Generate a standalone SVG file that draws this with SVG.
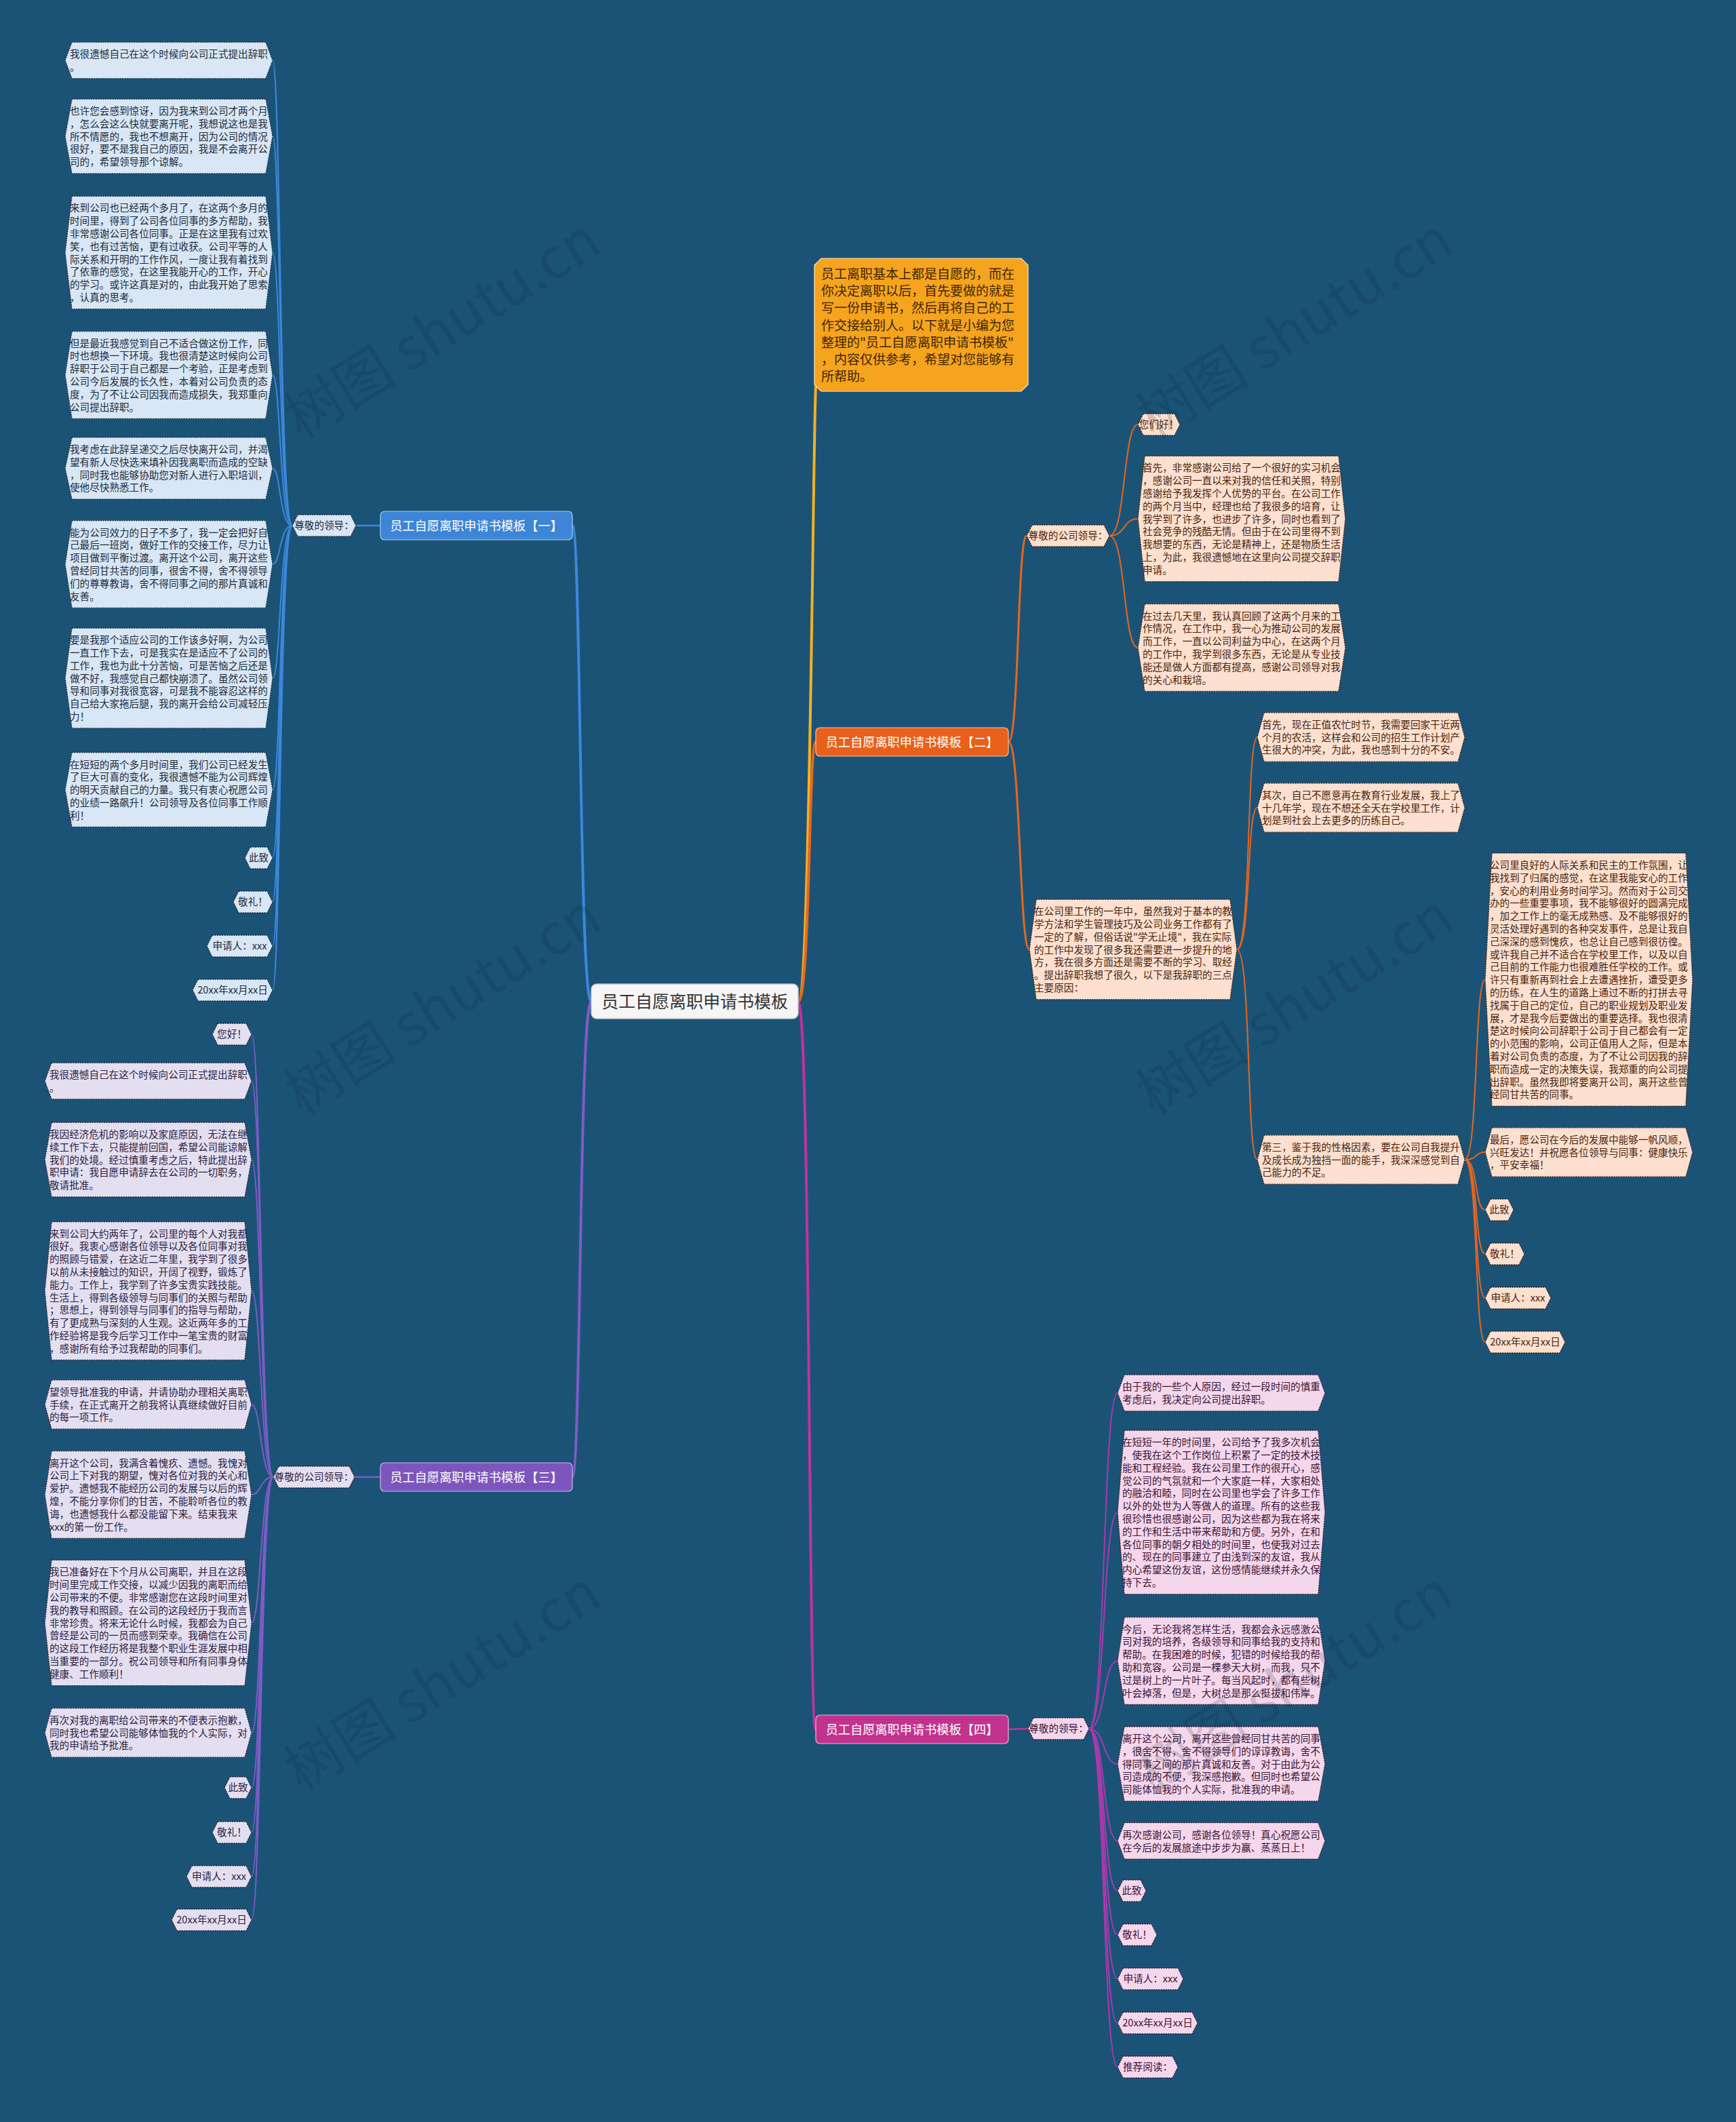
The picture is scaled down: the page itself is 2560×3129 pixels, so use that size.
<svg xmlns="http://www.w3.org/2000/svg" width="2560" height="3129" viewBox="0 0 2560 3129">
<style>
.t{font-family:"Noto Sans CJK SC","Noto Sans",sans-serif;font-size:14.6px}
.c{text-anchor:middle}
.h1{fill:#d8e6f5;stroke:#17283a;stroke-width:1.3;stroke-dasharray:2 1.5}
.h2{fill:#fde0cf;stroke:#3a1a0a;stroke-width:1.3;stroke-dasharray:2 1.5}
.h3{fill:#e4dff0;stroke:#211a33;stroke-width:1.3;stroke-dasharray:2 1.5}
.h4{fill:#f5d7ec;stroke:#33102a;stroke-width:1.3;stroke-dasharray:2 1.5}
.k1{fill:#1c2b3b}.k2{fill:#4a1f0c}.k3{fill:#2a2142}.k4{fill:#3a1233}
.br{font-family:"Noto Sans CJK SC","Noto Sans",sans-serif;font-size:18.2px;fill:#ffffff;text-anchor:middle}
.l{fill:none;stroke-linecap:round}
.lb{stroke:#3c88dc}.lo{stroke:#e8661f}.lp{stroke:#7e5cc6}.lm{stroke:#c2329b}.lm2{stroke:#a93aae}.ly{stroke:#f2b124}
.w{font-family:"Noto Sans CJK SC","Liberation Serif",serif;font-size:84px;fill:#0a2233;opacity:0.16}
</style>
<rect width="2560" height="3129" fill="#1b5377"/>

<g id="connectors">
<path class="l ly" stroke-width="4" d="M1177 1477 C1195 1477 1199 620 1203 570"/>
<path class="l lo" stroke-width="4" d="M1177 1477 C1195 1477 1192 1094 1203 1094"/>
<path class="l lm" stroke-width="4" d="M1177 1477 C1195 1477 1192 2550 1203 2550"/>
<path class="l lb" stroke-width="4" d="M872 1477 C854 1477 857 775 844 775"/>
<path class="l lp" stroke-width="4" d="M872 1477 C854 1477 857 2178 844 2178"/>
<path class="l lb" stroke-width="2.5" d="M561 775 L525 775"/>
<path class="l lp" stroke-width="2.5" d="M561 2178 L523 2178"/>
<path class="l lm" stroke-width="2.5" d="M1487 2550 L1516 2549"/>
<path class="l lo" stroke-width="3" d="M1487 1094 C1503 1094 1500 790 1514 790"/>
<path class="l lo" stroke-width="3" d="M1487 1094 C1505 1094 1503 1400 1518 1400"/>
<g class="l lb" stroke-width="2">
<path d="M431 775 C412 775 414 89 402 89"/>
<path d="M431 775 C412 775 414 201 402 201"/>
<path d="M431 775 C412 775 414 372.5 402 372.5"/>
<path d="M431 775 C412 775 414 553 402 553"/>
<path d="M431 775 C412 775 414 690.5 402 690.5"/>
<path d="M431 775 C412 775 414 832 402 832"/>
<path d="M431 775 C412 775 414 1000 402 1000"/>
<path d="M431 775 C412 775 414 1164.5 402 1164.5"/>
<path d="M431 775 C412 775 414 1265 402 1265"/>
<path d="M431 775 C412 775 414 1330 402 1330"/>
<path d="M431 775 C412 775 414 1395 402 1395"/>
<path d="M431 775 C412 775 414 1460 402 1460"/>
</g>
<g class="l lp" stroke-width="2">
<path d="M403 2178 C384 2178 385 1525 371 1525"/>
<path d="M403 2178 C384 2178 385 1594 371 1594"/>
<path d="M403 2178 C384 2178 385 1710 371 1710"/>
<path d="M403 2178 C384 2178 385 1903.5 371 1903.5"/>
<path d="M403 2178 C384 2178 385 2071 371 2071"/>
<path d="M403 2178 C384 2178 385 2204 371 2204"/>
<path d="M403 2178 C384 2178 385 2393 371 2393"/>
<path d="M403 2178 C384 2178 385 2555 371 2555"/>
<path d="M403 2178 C384 2178 385 2636 371 2636"/>
<path d="M403 2178 C384 2178 385 2702 371 2702"/>
<path d="M403 2178 C384 2178 385 2767 371 2767"/>
<path d="M403 2178 C384 2178 385 2831 371 2831"/>
</g>
<g class="l lo" stroke-width="2">
<path d="M1636 790 C1660 790 1656 626 1678 626"/>
<path d="M1636 790 C1660 790 1656 765 1678 765"/>
<path d="M1636 790 C1660 790 1656 955 1678 955"/>
<path d="M1824 1400 C1845 1400 1838 1087 1854 1087"/>
<path d="M1824 1400 C1845 1400 1838 1191 1854 1191"/>
<path d="M1824 1400 C1845 1400 1838 1710 1854 1710"/>
<path d="M2160 1710 C2180 1710 2174 1444.5 2190 1444.5"/>
<path d="M2160 1710 C2180 1710 2174 1699 2190 1699"/>
<path d="M2160 1710 C2180 1710 2174 1784 2190 1784"/>
<path d="M2160 1710 C2180 1710 2174 1849 2190 1849"/>
<path d="M2160 1710 C2180 1710 2174 1914 2190 1914"/>
<path d="M2160 1710 C2180 1710 2174 1979 2190 1979"/>
</g>
<g class="l lm2" stroke-width="2">
<path d="M1606 2549 C1630 2549 1626 2054 1648 2054"/>
<path d="M1606 2549 C1630 2549 1626 2230 1648 2230"/>
<path d="M1606 2549 C1630 2549 1626 2449 1648 2449"/>
<path d="M1606 2549 C1630 2549 1626 2601 1648 2601"/>
<path d="M1606 2549 C1630 2549 1626 2714.5 1648 2714.5"/>
<path d="M1606 2549 C1630 2549 1626 2788 1648 2788"/>
<path d="M1606 2549 C1630 2549 1626 2853 1648 2853"/>
<path d="M1606 2549 C1630 2549 1626 2918 1648 2918"/>
<path d="M1606 2549 C1630 2549 1626 2983 1648 2983"/>
<path d="M1606 2549 C1630 2549 1626 3048 1648 3048"/>
</g>
</g>

<g id="root">
<rect x="872" y="1451" width="305" height="51" rx="8" fill="#f6f6f6" stroke="#c9c9c9" stroke-width="1.5"/>
<text x="1024.5" y="1486" class="c" font-family="Noto Sans CJK SC, sans-serif" font-size="25" fill="#333333">员工自愿离职申请书模板</text>
</g>

<g id="intro">
<path d="M1211 381 L1506 381 L1516 391 L1516 567 L1506 577 L1211 577 L1201 567 L1201 391 Z" fill="#f6a31d" stroke="#fde7b8" stroke-width="1.2"/>
<text font-family="Noto Sans CJK SC, sans-serif" font-size="19" fill="#3b2600">
<tspan x="1211" y="411">员工离职基本上都是自愿的，而在</tspan>
<tspan x="1211" dy="25.2">你决定离职以后，首先要做的就是</tspan>
<tspan x="1211" dy="25.2">写一份申请书，然后再将自己的工</tspan>
<tspan x="1211" dy="25.2">作交接给别人。以下就是小编为您</tspan>
<tspan x="1211" dy="25.2">整理的"员工自愿离职申请书模板"</tspan>
<tspan x="1211" dy="25.2">，内容仅供参考，希望对您能够有</tspan>
<tspan x="1211" dy="25.2">所帮助。</tspan>
</text>
</g>

<g id="b1">
<rect x="561" y="754" width="283" height="42" rx="6" fill="#3d85d6" stroke="#a9cdf2" stroke-width="1.2"/>
<text x="702.5" y="781.5" class="br">员工自愿离职申请书模板【一】</text>
</g>
<g id="b2">
<rect x="1203" y="1073" width="284" height="42" rx="6" fill="#e8601c" stroke="#f8c3a3" stroke-width="1.2"/>
<text x="1345" y="1100.5" class="br">员工自愿离职申请书模板【二】</text>
</g>
<g id="b3">
<rect x="561" y="2157" width="283" height="42" rx="6" fill="#7d56bd" stroke="#c9b8ea" stroke-width="1.2"/>
<text x="702.5" y="2184.5" class="br">员工自愿离职申请书模板【三】</text>
</g>
<g id="b4">
<rect x="1203" y="2529" width="284" height="42" rx="6" fill="#c2338f" stroke="#eeb3d8" stroke-width="1.2"/>
<text x="1345" y="2556.5" class="br">员工自愿离职申请书模板【四】</text>
</g>

<!-- Branch 1 -->
<g id="b1-s">
<polygon class="h1" points="439,759 517,759 525,775 517,791 439,791 431,775"/>
<text x="478" y="780" class="t c k1" font-size="14">尊敬的领导：</text>
</g>
<g id="b1-1"><polygon class="h1" points="106,62.2 392,62.2 402,89 392,115.8 106,115.8 96,89"/>
<text class="t k1"><tspan x="103" y="85.2">我很遗憾自己在这个时候向公司正式提出辞职</tspan><tspan x="103" dy="18.8">。</tspan></text></g>
<g id="b1-2"><polygon class="h1" points="106,146 392,146 402,201 392,256 106,256 96,201"/>
<text class="t k1"><tspan x="103" y="169">也许您会感到惊讶，因为我来到公司才两个月</tspan><tspan x="103" dy="18.8">，怎么会这么快就要离开呢，我想说这也是我</tspan><tspan x="103" dy="18.8">所不情愿的，我也不想离开，因为公司的情况</tspan><tspan x="103" dy="18.8">很好，要不是我自己的原因，我是不会离开公</tspan><tspan x="103" dy="18.8">司的，希望领导那个谅解。</tspan></text></g>
<g id="b1-3"><polygon class="h1" points="106,289.3 392,289.3 402,372.5 392,455.7 106,455.7 96,372.5"/>
<text class="t k1"><tspan x="103" y="312.3">来到公司也已经两个多月了，在这两个多月的</tspan><tspan x="103" dy="18.8">时间里，得到了公司各位同事的多方帮助，我</tspan><tspan x="103" dy="18.8">非常感谢公司各位同事。正是在这里我有过欢</tspan><tspan x="103" dy="18.8">笑，也有过苦恼，更有过收获。公司平等的人</tspan><tspan x="103" dy="18.8">际关系和开明的工作作风，一度让我有着找到</tspan><tspan x="103" dy="18.8">了依靠的感觉，在这里我能开心的工作，开心</tspan><tspan x="103" dy="18.8">的学习。或许这真是对的，由此我开始了思索</tspan><tspan x="103" dy="18.8">，认真的思考。</tspan></text></g>
<g id="b1-4"><polygon class="h1" points="106,488.6 392,488.6 402,553 392,617.4 106,617.4 96,553"/>
<text class="t k1"><tspan x="103" y="511.6">但是最近我感觉到自己不适合做这份工作，同</tspan><tspan x="103" dy="18.8">时也想换一下环境。我也很清楚这时候向公司</tspan><tspan x="103" dy="18.8">辞职于公司于自己都是一个考验，正是考虑到</tspan><tspan x="103" dy="18.8">公司今后发展的长久性，本着对公司负责的态</tspan><tspan x="103" dy="18.8">度，为了不让公司因我而造成损失，我郑重向</tspan><tspan x="103" dy="18.8">公司提出辞职。</tspan></text></g>
<g id="b1-5"><polygon class="h1" points="106,644.9 392,644.9 402,690.5 392,736.1 106,736.1 96,690.5"/>
<text class="t k1"><tspan x="103" y="667.9">我考虑在此辞呈递交之后尽快离开公司，并渴</tspan><tspan x="103" dy="18.8">望有新人尽快选来填补因我离职而造成的空缺</tspan><tspan x="103" dy="18.8">，同时我也能够协助您对新人进行入职培训，</tspan><tspan x="103" dy="18.8">使他尽快熟悉工作。</tspan></text></g>
<g id="b1-6"><polygon class="h1" points="106,767.6 392,767.6 402,832 392,896.4 106,896.4 96,832"/>
<text class="t k1"><tspan x="103" y="790.6">能为公司效力的日子不多了，我一定会把好自</tspan><tspan x="103" dy="18.8">己最后一班岗，做好工作的交接工作，尽力让</tspan><tspan x="103" dy="18.8">项目做到平衡过渡。离开这个公司，离开这些</tspan><tspan x="103" dy="18.8">曾经同甘共苦的同事，很舍不得，舍不得领导</tspan><tspan x="103" dy="18.8">们的尊尊教诲，舍不得同事之间的那片真诚和</tspan><tspan x="103" dy="18.8">友善。</tspan></text></g>
<g id="b1-7"><polygon class="h1" points="106,926.2 392,926.2 402,1000 392,1073.8 106,1073.8 96,1000"/>
<text class="t k1"><tspan x="103" y="949.2">要是我那个适应公司的工作该多好啊，为公司</tspan><tspan x="103" dy="18.8">一直工作下去，可是我实在是适应不了公司的</tspan><tspan x="103" dy="18.8">工作，我也为此十分苦恼，可是苦恼之后还是</tspan><tspan x="103" dy="18.8">做不好，我感觉自己都快崩溃了。虽然公司领</tspan><tspan x="103" dy="18.8">导和同事对我很宽容，可是我不能容忍这样的</tspan><tspan x="103" dy="18.8">自己给大家拖后腿，我的离开会给公司减轻压</tspan><tspan x="103" dy="18.8">力！</tspan></text></g>
<g id="b1-8"><polygon class="h1" points="106,1109.5 392,1109.5 402,1164.5 392,1219.5 106,1219.5 96,1164.5"/>
<text class="t k1"><tspan x="103" y="1132.5">在短短的两个多月时间里，我们公司已经发生</tspan><tspan x="103" dy="18.8">了巨大可喜的变化，我很遗憾不能为公司辉煌</tspan><tspan x="103" dy="18.8">的明天贡献自己的力量。我只有衷心祝愿公司</tspan><tspan x="103" dy="18.8">的业绩一路飙升！公司领导及各位同事工作顺</tspan><tspan x="103" dy="18.8">利！</tspan></text></g>
<g id="b1-9"><polygon class="h1" points="369,1249 394,1249 402,1265 394,1281 369,1281 361,1265"/><text x="381.5" y="1270" class="t c k1">此致</text></g>
<g id="b1-10"><polygon class="h1" points="352,1314 394,1314 402,1330 394,1346 352,1346 344,1330"/><text x="373" y="1335" class="t c k1">敬礼！</text></g>
<g id="b1-11"><polygon class="h1" points="313,1379 394,1379 402,1395 394,1411 313,1411 305,1395"/><text x="353.5" y="1400" class="t c k1">申请人：xxx</text></g>
<g id="b1-12"><polygon class="h1" points="292,1444 394,1444 402,1460 394,1476 292,1476 284,1460"/><text x="343" y="1465" class="t c k1">20xx年xx月xx日</text></g>

<!-- Branch 3 -->
<g id="b3-s">
<polygon class="h3" points="411,2162 515,2162 523,2178 515,2194 411,2194 403,2178"/>
<text x="463" y="2183" class="t c k3" font-size="14">尊敬的公司领导：</text>
</g>
<g id="b3-1"><polygon class="h3" points="321,1509 363,1509 371,1525 363,1541 321,1541 313,1525"/><text x="342" y="1530" class="t c k3">您好！</text></g>
<g id="b3-2"><polygon class="h3" points="76,1567.2 361,1567.2 371,1594 361,1620.8 76,1620.8 66,1594"/>
<text class="t k3"><tspan x="73" y="1590.2">我很遗憾自己在这个时候向公司正式提出辞职</tspan><tspan x="73" dy="18.8">。</tspan></text></g>
<g id="b3-3"><polygon class="h3" points="76,1655 361,1655 371,1710 361,1765 76,1765 66,1710"/>
<text class="t k3"><tspan x="73" y="1678">我因经济危机的影响以及家庭原因，无法在继</tspan><tspan x="73" dy="18.8">续工作下去，只能提前回国，希望公司能谅解</tspan><tspan x="73" dy="18.8">我们的处境。经过慎重考虑之后，特此提出辞</tspan><tspan x="73" dy="18.8">职申请：我自愿申请辞去在公司的一切职务，</tspan><tspan x="73" dy="18.8">敬请批准。</tspan></text></g>
<g id="b3-4"><polygon class="h3" points="76,1801.5 361,1801.5 371,1903.5 361,2005.5 76,2005.5 66,1903.5"/>
<text class="t k3"><tspan x="73" y="1824.5">来到公司大约两年了，公司里的每个人对我都</tspan><tspan x="73" dy="18.8">很好。我衷心感谢各位领导以及各位同事对我</tspan><tspan x="73" dy="18.8">的照顾与错爱，在这近二年里，我学到了很多</tspan><tspan x="73" dy="18.8">以前从未接触过的知识，开阔了视野，锻炼了</tspan><tspan x="73" dy="18.8">能力。工作上，我学到了许多宝贵实践技能。</tspan><tspan x="73" dy="18.8">生活上，得到各级领导与同事们的关照与帮助</tspan><tspan x="73" dy="18.8">；思想上，得到领导与同事们的指导与帮助，</tspan><tspan x="73" dy="18.8">有了更成熟与深刻的人生观。这近两年多的工</tspan><tspan x="73" dy="18.8">作经验将是我今后学习工作中一笔宝贵的财富</tspan><tspan x="73" dy="18.8">，感谢所有给予过我帮助的同事们。</tspan></text></g>
<g id="b3-5"><polygon class="h3" points="76,2034.8 361,2034.8 371,2071 361,2107.2 76,2107.2 66,2071"/>
<text class="t k3"><tspan x="73" y="2057.8">望领导批准我的申请，并请协助办理相关离职</tspan><tspan x="73" dy="18.8">手续，在正式离开之前我将认真继续做好目前</tspan><tspan x="73" dy="18.8">的每一项工作。</tspan></text></g>
<g id="b3-6"><polygon class="h3" points="76,2139.6 361,2139.6 371,2204 361,2268.4 76,2268.4 66,2204"/>
<text class="t k3"><tspan x="73" y="2162.6">离开这个公司，我满含着愧疚、遗憾。我愧对</tspan><tspan x="73" dy="18.8">公司上下对我的期望，愧对各位对我的关心和</tspan><tspan x="73" dy="18.8">爱护。遗憾我不能经历公司的发展与以后的辉</tspan><tspan x="73" dy="18.8">煌，不能分享你们的甘苦，不能聆听各位的教</tspan><tspan x="73" dy="18.8">诲，也遗憾我什么都没能留下来。结束我来</tspan><tspan x="73" dy="18.8">xxx的第一份工作。</tspan></text></g>
<g id="b3-7"><polygon class="h3" points="76,2300.4 361,2300.4 371,2393 361,2485.6 76,2485.6 66,2393"/>
<text class="t k3"><tspan x="73" y="2323.4">我已准备好在下个月从公司离职，并且在这段</tspan><tspan x="73" dy="18.8">时间里完成工作交接，以减少因我的离职而给</tspan><tspan x="73" dy="18.8">公司带来的不便。非常感谢您在这段时间里对</tspan><tspan x="73" dy="18.8">我的教导和照顾。在公司的这段经历于我而言</tspan><tspan x="73" dy="18.8">非常珍贵。将来无论什么时候，我都会为自己</tspan><tspan x="73" dy="18.8">曾经是公司的一员而感到荣幸。我确信在公司</tspan><tspan x="73" dy="18.8">的这段工作经历将是我整个职业生涯发展中相</tspan><tspan x="73" dy="18.8">当重要的一部分。祝公司领导和所有同事身体</tspan><tspan x="73" dy="18.8">健康、工作顺利！</tspan></text></g>
<g id="b3-8"><polygon class="h3" points="76,2518.8 361,2518.8 371,2555 361,2591.2 76,2591.2 66,2555"/>
<text class="t k3"><tspan x="73" y="2541.8">再次对我的离职给公司带来的不便表示抱歉，</tspan><tspan x="73" dy="18.8">同时我也希望公司能够体恤我的个人实际，对</tspan><tspan x="73" dy="18.8">我的申请给予批准。</tspan></text></g>
<g id="b3-9"><polygon class="h3" points="339,2620 363,2620 371,2636 363,2652 339,2652 331,2636"/><text x="351" y="2641" class="t c k3">此致</text></g>
<g id="b3-10"><polygon class="h3" points="321,2686 363,2686 371,2702 363,2718 321,2718 313,2702"/><text x="342" y="2707" class="t c k3">敬礼！</text></g>
<g id="b3-11"><polygon class="h3" points="283,2751 363,2751 371,2767 363,2783 283,2783 275,2767"/><text x="323" y="2772" class="t c k3">申请人：xxx</text></g>
<g id="b3-12"><polygon class="h3" points="261,2815 363,2815 371,2831 363,2847 261,2847 253,2831"/><text x="312" y="2836" class="t c k3">20xx年xx月xx日</text></g>

<!-- Branch 2 -->
<g id="b2-s1">
<polygon class="h2" points="1522,774 1628,774 1636,790 1628,806 1522,806 1514,790"/>
<text x="1575" y="795" class="t c k2" font-size="14">尊敬的公司领导：</text>
</g>
<g id="b2-s1-1"><polygon class="h2" points="1686,610 1732,610 1740,626 1732,642 1686,642 1678,626"/><text x="1709" y="631" class="t c k2">您们好！</text></g>
<g id="b2-s1-2"><polygon class="h2" points="1688,672.4 1974,672.4 1984,765 1974,857.6 1688,857.6 1678,765"/>
<text class="t k2"><tspan x="1685" y="695.4">首先，非常感谢公司给了一个很好的实习机会</tspan><tspan x="1685" dy="18.8">，感谢公司一直以来对我的信任和关照，特别</tspan><tspan x="1685" dy="18.8">感谢给予我发挥个人优势的平台。在公司工作</tspan><tspan x="1685" dy="18.8">的两个月当中，经理也给了我很多的培育，让</tspan><tspan x="1685" dy="18.8">我学到了许多，也进步了许多，同时也看到了</tspan><tspan x="1685" dy="18.8">社会竞争的残酷无情。但由于在公司里得不到</tspan><tspan x="1685" dy="18.8">我想要的东西，无论是精神上，还是物质生活</tspan><tspan x="1685" dy="18.8">上，为此，我很遗憾地在这里向公司提交辞职</tspan><tspan x="1685" dy="18.8">申请。</tspan></text></g>
<g id="b2-s1-3"><polygon class="h2" points="1688,890.6 1974,890.6 1984,955 1974,1019.4 1688,1019.4 1678,955"/>
<text class="t k2"><tspan x="1685" y="913.6">在过去几天里，我认真回顾了这两个月来的工</tspan><tspan x="1685" dy="18.8">作情况，在工作中，我一心为推动公司的发展</tspan><tspan x="1685" dy="18.8">而工作，一直以公司利益为中心，在这两个月</tspan><tspan x="1685" dy="18.8">的工作中，我学到很多东西，无论是从专业技</tspan><tspan x="1685" dy="18.8">能还是做人方面都有提高，感谢公司领导对我</tspan><tspan x="1685" dy="18.8">的关心和栽培。</tspan></text></g>
<g id="b2-s2"><polygon class="h2" points="1528,1326.2 1814,1326.2 1824,1400 1814,1473.8 1528,1473.8 1518,1400"/>
<text class="t k2"><tspan x="1525" y="1349.2">在公司里工作的一年中，虽然我对于基本的教</tspan><tspan x="1525" dy="18.8">学方法和学生管理技巧及公司业务工作都有了</tspan><tspan x="1525" dy="18.8">一定的了解，但俗话说"学无止境"，我在实际</tspan><tspan x="1525" dy="18.8">的工作中发现了很多我还需要进一步提升的地</tspan><tspan x="1525" dy="18.8">方，我在很多方面还是需要不断的学习、取经</tspan><tspan x="1525" dy="18.8">。提出辞职我想了很久，以下是我辞职的三点</tspan><tspan x="1525" dy="18.8">主要原因：</tspan></text></g>
<g id="b2-s2-1"><polygon class="h2" points="1864,1050.8 2150,1050.8 2160,1087 2150,1123.2 1864,1123.2 1854,1087"/>
<text class="t k2"><tspan x="1861" y="1073.8">首先，现在正值农忙时节，我需要回家干近两</tspan><tspan x="1861" dy="18.8">个月的农活，这样会和公司的招生工作计划产</tspan><tspan x="1861" dy="18.8">生很大的冲突，为此，我也感到十分的不安。</tspan></text></g>
<g id="b2-s2-2"><polygon class="h2" points="1864,1154.8 2150,1154.8 2160,1191 2150,1227.2 1864,1227.2 1854,1191"/>
<text class="t k2"><tspan x="1861" y="1177.8">其次，自己不愿意再在教育行业发展，我上了</tspan><tspan x="1861" dy="18.8">十几年学，现在不想还全天在学校里工作，计</tspan><tspan x="1861" dy="18.8">划是到社会上去更多的历练自己。</tspan></text></g>
<g id="b2-s2-3"><polygon class="h2" points="1864,1673.8 2150,1673.8 2160,1710 2150,1746.2 1864,1746.2 1854,1710"/>
<text class="t k2"><tspan x="1861" y="1696.8">第三，鉴于我的性格因素，要在公司自我提升</tspan><tspan x="1861" dy="18.8">及成长成为独挡一面的能手，我深深感觉到自</tspan><tspan x="1861" dy="18.8">己能力的不足。</tspan></text></g>
<g id="b2-s3-1"><polygon class="h2" points="2200,1257.9 2486,1257.9 2496,1444.5 2486,1631.1 2200,1631.1 2190,1444.5"/>
<text class="t k2"><tspan x="2197" y="1280.9">公司里良好的人际关系和民主的工作氛围，让</tspan><tspan x="2197" dy="18.8">我找到了归属的感觉，在这里我能安心的工作</tspan><tspan x="2197" dy="18.8">，安心的利用业务时间学习。然而对于公司交</tspan><tspan x="2197" dy="18.8">办的一些重要事项，我不能够很好的圆满完成</tspan><tspan x="2197" dy="18.8">，加之工作上的毫无成熟感、及不能够很好的</tspan><tspan x="2197" dy="18.8">灵活处理好遇到的各种突发事件，总是让我自</tspan><tspan x="2197" dy="18.8">己深深的感到愧疚，也总让自己感到很彷徨。</tspan><tspan x="2197" dy="18.8">或许我自己并不适合在学校里工作，以及以自</tspan><tspan x="2197" dy="18.8">己目前的工作能力也很难胜任学校的工作。或</tspan><tspan x="2197" dy="18.8">许只有重新再到社会上去遭遇挫折，遭受更多</tspan><tspan x="2197" dy="18.8">的历练，在人生的道路上通过不断的打拼去寻</tspan><tspan x="2197" dy="18.8">找属于自己的定位，自己的职业规划及职业发</tspan><tspan x="2197" dy="18.8">展，才是我今后要做出的重要选择。我也很清</tspan><tspan x="2197" dy="18.8">楚这时候向公司辞职于公司于自己都会有一定</tspan><tspan x="2197" dy="18.8">的小范围的影响，公司正值用人之际，但是本</tspan><tspan x="2197" dy="18.8">着对公司负责的态度，为了不让公司因我的辞</tspan><tspan x="2197" dy="18.8">职而造成一定的决策失误，我郑重的向公司提</tspan><tspan x="2197" dy="18.8">出辞职。虽然我即将要离开公司，离开这些曾</tspan><tspan x="2197" dy="18.8">经同甘共苦的同事。</tspan></text></g>
<g id="b2-s3-2"><polygon class="h2" points="2200,1662.8 2486,1662.8 2496,1699 2486,1735.2 2200,1735.2 2190,1699"/>
<text class="t k2"><tspan x="2197" y="1685.8">最后，愿公司在今后的发展中能够一帆风顺，</tspan><tspan x="2197" dy="18.8">兴旺发达！并祝愿各位领导与同事：健康快乐</tspan><tspan x="2197" dy="18.8">，平安幸福！</tspan></text></g>
<g id="b2-s3-3"><polygon class="h2" points="2198,1768 2224,1768 2232,1784 2224,1800 2198,1800 2190,1784"/><text x="2211" y="1789" class="t c k2">此致</text></g>
<g id="b2-s3-4"><polygon class="h2" points="2198,1833 2240,1833 2248,1849 2240,1865 2198,1865 2190,1849"/><text x="2219" y="1854" class="t c k2">敬礼！</text></g>
<g id="b2-s3-5"><polygon class="h2" points="2198,1898 2279,1898 2287,1914 2279,1930 2198,1930 2190,1914"/><text x="2238.5" y="1919" class="t c k2">申请人：xxx</text></g>
<g id="b2-s3-6"><polygon class="h2" points="2198,1963 2300,1963 2308,1979 2300,1995 2198,1995 2190,1979"/><text x="2249" y="1984" class="t c k2">20xx年xx月xx日</text></g>

<!-- Branch 4 -->
<g id="b4-s">
<polygon class="h4" points="1524,2533 1598,2533 1606,2549 1598,2565 1524,2565 1516,2549"/>
<text x="1561" y="2554" class="t c k4" font-size="14">尊敬的领导：</text>
</g>
<g id="b4-1"><polygon class="h4" points="1658,2027.2 1944,2027.2 1954,2054 1944,2080.8 1658,2080.8 1648,2054"/>
<text class="t k4"><tspan x="1655" y="2050.2">由于我的一些个人原因，经过一段时间的慎重</tspan><tspan x="1655" dy="18.8">考虑后，我决定向公司提出辞职。</tspan></text></g>
<g id="b4-2"><polygon class="h4" points="1658,2109.2 1944,2109.2 1954,2230 1944,2350.8 1658,2350.8 1648,2230"/>
<text class="t k4"><tspan x="1655" y="2132.2">在短短一年的时间里，公司给予了我多次机会</tspan><tspan x="1655" dy="18.8">，使我在这个工作岗位上积累了一定的技术技</tspan><tspan x="1655" dy="18.8">能和工程经验。我在公司里工作的很开心，感</tspan><tspan x="1655" dy="18.8">觉公司的气氛就和一个大家庭一样，大家相处</tspan><tspan x="1655" dy="18.8">的融洽和睦，同时在公司里也学会了许多工作</tspan><tspan x="1655" dy="18.8">以外的处世为人等做人的道理。所有的这些我</tspan><tspan x="1655" dy="18.8">很珍惜也很感谢公司，因为这些都为我在将来</tspan><tspan x="1655" dy="18.8">的工作和生活中带来帮助和方便。另外，在和</tspan><tspan x="1655" dy="18.8">各位同事的朝夕相处的时间里，也使我对过去</tspan><tspan x="1655" dy="18.8">的、现在的同事建立了由浅到深的友谊，我从</tspan><tspan x="1655" dy="18.8">内心希望这份友谊，这份感情能继续并永久保</tspan><tspan x="1655" dy="18.8">持下去。</tspan></text></g>
<g id="b4-3"><polygon class="h4" points="1658,2384.6 1944,2384.6 1954,2449 1944,2513.4 1658,2513.4 1648,2449"/>
<text class="t k4"><tspan x="1655" y="2407.6">今后，无论我将怎样生活，我都会永远感激公</tspan><tspan x="1655" dy="18.8">司对我的培养，各级领导和同事给我的支持和</tspan><tspan x="1655" dy="18.8">帮助。在我困难的时候，犯错的时候给我的帮</tspan><tspan x="1655" dy="18.8">助和宽容。公司是一棵参天大树，而我，只不</tspan><tspan x="1655" dy="18.8">过是树上的一片叶子。每当风起时，都有些树</tspan><tspan x="1655" dy="18.8">叶会掉落，但是，大树总是那么挺拔和伟岸。</tspan></text></g>
<g id="b4-4"><polygon class="h4" points="1658,2546 1944,2546 1954,2601 1944,2656 1658,2656 1648,2601"/>
<text class="t k4"><tspan x="1655" y="2569">离开这个公司，离开这些曾经同甘共苦的同事</tspan><tspan x="1655" dy="18.8">，很舍不得，舍不得领导们的谆谆教诲，舍不</tspan><tspan x="1655" dy="18.8">得同事之间的那片真诚和友善。对于由此为公</tspan><tspan x="1655" dy="18.8">司造成的不便，我深感抱歉。但同时也希望公</tspan><tspan x="1655" dy="18.8">司能体恤我的个人实际，批准我的申请。</tspan></text></g>
<g id="b4-5"><polygon class="h4" points="1658,2687.7 1944,2687.7 1954,2714.5 1944,2741.3 1658,2741.3 1648,2714.5"/>
<text class="t k4"><tspan x="1655" y="2710.7">再次感谢公司，感谢各位领导！真心祝愿公司</tspan><tspan x="1655" dy="18.8">在今后的发展旅途中步步为赢、蒸蒸日上！</tspan></text></g>
<g id="b4-6"><polygon class="h4" points="1656,2772 1682,2772 1690,2788 1682,2804 1656,2804 1648,2788"/><text x="1669" y="2793" class="t c k4">此致</text></g>
<g id="b4-7"><polygon class="h4" points="1656,2837 1698,2837 1706,2853 1698,2869 1656,2869 1648,2853"/><text x="1677" y="2858" class="t c k4">敬礼！</text></g>
<g id="b4-8"><polygon class="h4" points="1656,2902 1737,2902 1745,2918 1737,2934 1656,2934 1648,2918"/><text x="1696.5" y="2923" class="t c k4">申请人：xxx</text></g>
<g id="b4-9"><polygon class="h4" points="1656,2967 1758,2967 1766,2983 1758,2999 1656,2999 1648,2983"/><text x="1707" y="2988" class="t c k4">20xx年xx月xx日</text></g>
<g id="b4-10"><polygon class="h4" points="1656,3032 1729,3032 1737,3048 1729,3064 1656,3064 1648,3048"/><text x="1692.5" y="3053" class="t c k4">推荐阅读：</text></g>

<g id="watermarks">
<text class="w c" transform="translate(668,509) rotate(-32)">树图 shutu.cn</text>
<text class="w c" transform="translate(1925,509) rotate(-32)">树图 shutu.cn</text>
<text class="w c" transform="translate(668,1506) rotate(-32)">树图 shutu.cn</text>
<text class="w c" transform="translate(1925,1506) rotate(-32)">树图 shutu.cn</text>
<text class="w c" transform="translate(668,2504) rotate(-32)">树图 shutu.cn</text>
<text class="w c" transform="translate(1925,2504) rotate(-32)">树图 shutu.cn</text>
</g>
</svg>
